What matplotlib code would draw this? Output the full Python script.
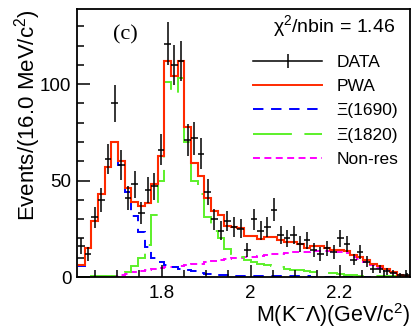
import numpy as np
import matplotlib
matplotlib.use("Agg")
import matplotlib.pyplot as plt
from matplotlib.lines import Line2D

plt.rcParams['font.family'] = ['Liberation Sans', 'DejaVu Sans']
plt.rcParams['mathtext.fontset'] = 'custom'
plt.rcParams['mathtext.rm'] = 'Liberation Sans'
plt.rcParams['mathtext.it'] = 'Liberation Sans:italic'
plt.rcParams['lines.scale_dashes'] = False

# binning of the M(K- Lambda) histogram (GeV/c^2)
m_lo, m_hi, n_bins = 1.6125, 2.358, 50

data_counts = [16, 12, 31, 40, 61, 90, 58, 41, 48, 33,
               45, 47, 66, 121, 110, 112, 71, 72, 64, 44,
               30, 24, 29, 26, 25, 14, 30, 24, 26, 35,
               22, 20, 22, 17, 19, 14, 12, 15, 13, 20,
               17, 9, 13, 8, 4, 4, 3, 2, 1, 1]

pwa = [6, 15, 29, 43, 57, 70, 60, 46, 39, 37,
       38.5, 48, 63, 112, 104, 112, 78, 59, 52.5, 41,
       34, 32, 26.5, 26, 25.5, 21.5, 21.5, 19.5, 21, 21,
       19, 18, 18, 17, 15, 16, 16, 15, 14, 14,
       13.5, 11.5, 10.5, 9, 7, 5.5, 4, 2.5, 1, 0.3]

xi1690 = [5.5, 15, 29, 43, 57, 70, 58, 44, 31.5, 23.5,
          15.7, 10, 8, 6, 5, 4, 3.5, 3, 2.3, 1.8,
          1.4, 1.1, 0.9, 0.7, 0.6, 0.5, 0.5, 0.4, 0.4, 0.4,
          0.3, 0.3, 0.3, 0.3, 0.3, 0.2, 0.2, 0.2, 0.2, 0.2,
          0.2, 0.2, 0.2, 0.1, 0.1, 0.1, 0.1, 0.1, 0.1, 0.1]

xi1820 = [0.2, 0.2, 0.3, 0.3, 0.4, 0.5, 1, 2.5, 5.5, 9.7,
          16.5, 32, 50, 101, 95, 103, 70, 50, 43, 31,
          24, 20, 14.5, 12, 10.5, 9, 8, 7, 6, 5.5,
          5, 4.2, 3.8, 3.5, 3, 2.8, 2.5, 2.2, 2, 1.5,
          1.2, 1, 0.8, 0.7, 0.6, 0.5, 0.4, 0.3, 0.2, 0.1]

nonres = [0, 0.1, 0.2, 0.3, 0.5, 0.8, 1.2, 1.8, 2.4, 3,
          3.5, 4, 4.5, 5, 5.4, 5.8, 6.2, 6.6, 7, 7.8,
          8.5, 9, 9.5, 9.8, 10, 10.2, 10.4, 10.8, 11.2, 11.8,
          12.2, 12.6, 12.8, 13, 13.2, 13.4, 13.5, 13.6, 13.5, 13,
          12.5, 10.5, 9.5, 8, 6.3, 4.8, 3.5, 2, 0.7, 0.2]

labels = ["DATA", "PWA", "\u039e(1690)", "\u039e(1820)", "Non-res"]
chi2_text = "\u03c7$^{2}$/nbin = 1.46"

edges = np.linspace(m_lo, m_hi, n_bins + 1)
centers = 0.5 * (edges[:-1] + edges[1:])
half_w = 0.5 * (edges[1] - edges[0])
counts = np.array(data_counts, dtype=float)

fig = plt.figure(figsize=(4.12, 3.31), dpi=100)
ax = fig.add_axes([0.187, 0.163, 0.808, 0.81])

red = '#ff2a00'
green = '#5cf02a'
blue = '#0000ff'
magenta = '#ff00ff'

ls_blue = (0, (7.5, 5.5))
ls_green = (0, (28, 9))
ls_mag = (0, (5, 3.2))

ax.stairs(nonres, edges, baseline=None, color=magenta, lw=1.4, ls=ls_mag)
ax.stairs(xi1690, edges, baseline=None, color=blue, lw=1.4, ls=ls_blue)
ax.stairs(xi1820, edges, baseline=None, color=green, lw=1.4, ls=ls_green)
ax.stairs(pwa, edges, baseline=None, color=red, lw=1.5)
ax.errorbar(centers, counts, yerr=np.sqrt(counts), xerr=half_w, fmt='none',
            ecolor='black', elinewidth=1.1, capsize=0)

ax.set_xlim(1.61, 2.358)
ax.set_ylim(0, 139)
ax.set_xticks([1.8, 2.0, 2.2])
ax.set_xticklabels(["1.8", "2", "2.2"])
ax.set_xticks(np.arange(1.65, 2.36, 0.05), minor=True)
ax.set_yticks([0, 50, 100])
ax.set_yticks(np.arange(0, 140, 10), minor=True)
ax.tick_params(which='both', direction='in', top=False, right=False,
               labelsize=13.5, width=1.1)
ax.tick_params(which='major', length=9)
ax.tick_params(axis='x', which='major', pad=6)
ax.tick_params(axis='y', which='major', pad=4)
ax.tick_params(which='minor', length=5)
for s in ax.spines.values():
    s.set_linewidth(1.3)

ax.set_xlabel("M(K$^{-}$\u039b)(GeV/c$^{2}$)", fontsize=15.5, loc='right', labelpad=-1)
ax.set_ylabel("Events/(16.0 MeV/c$^{2}$)", fontsize=16, loc='top', labelpad=-2)

ax.text(0.108, 0.905, "(c)", transform=ax.transAxes, fontsize=16,
        family='Liberation Serif', va='center', ha='left')
ax.text(0.955, 0.935, chi2_text, transform=ax.transAxes, fontsize=14,
        va='center', ha='right')

handles = [
    Line2D([], [], color='black', lw=1.1, marker='|', markersize=10, markeredgewidth=1.1),
    Line2D([], [], color=red, lw=1.4),
    Line2D([], [], color=blue, lw=1.4, ls=ls_blue),
    Line2D([], [], color=green, lw=1.4, ls=ls_green),
    Line2D([], [], color=magenta, lw=1.4, ls=ls_mag),
]
ax.legend(handles, labels, loc='upper left', bbox_to_anchor=(0.528, 0.83),
          frameon=False, fontsize=12.5, handlelength=4.0, handletextpad=0.8,
          labelspacing=0.53, borderpad=0, borderaxespad=0)

fig.savefig("out.png", dpi=100)
